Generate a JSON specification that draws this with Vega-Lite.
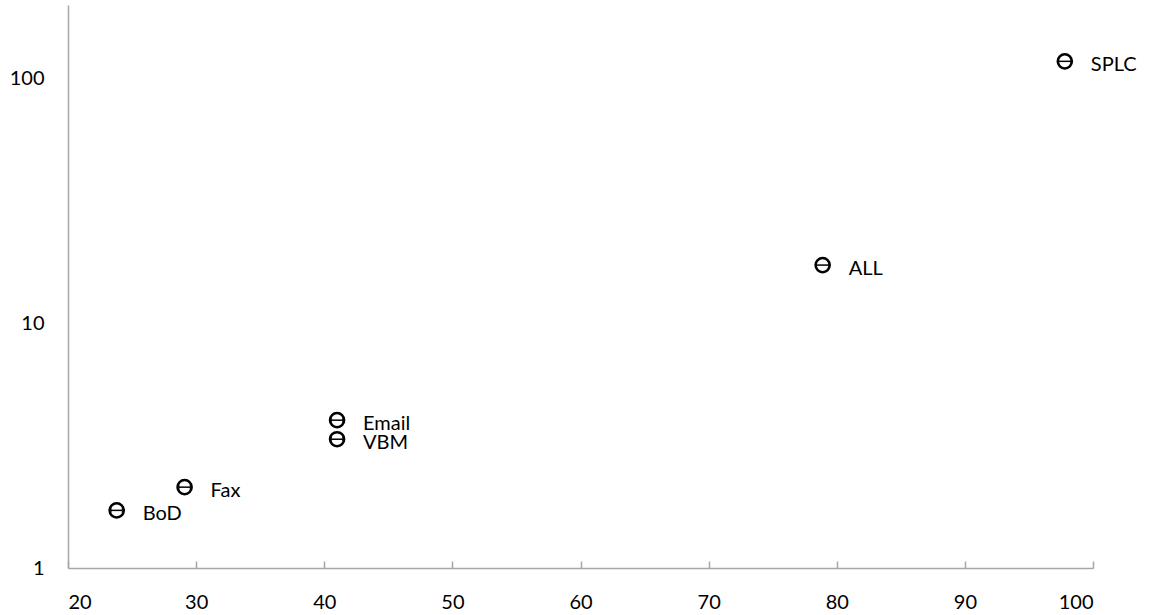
{
  "$schema": "https://vega.github.io/schema/vega-lite/v6.json",
  "width": 1025,
  "height": 563,
  "autosize": {"type": "none"},
  "padding": {"left": 68, "top": 5, "right": 56, "bottom": 47},
  "background": "white",
  "config": {
    "view": {"stroke": null},
    "font": "Lato",
    "axis": {
      "grid": false,
      "domainColor": "#a6a6a6",
      "domainWidth": 1.5,
      "tickColor": "#a6a6a6",
      "tickWidth": 1.5,
      "labelFont": "Lato",
      "labelFontSize": 20,
      "labelColor": "#000000",
      "title": null
    }
  },
  "data": {
    "values": [
      {"name": "SPLC", "x": 97.8, "y": 117.7, "xlo": 97.3, "xhi": 98.3},
      {"name": "ALL", "x": 78.9, "y": 17.3, "xlo": 78.4, "xhi": 79.4},
      {"name": "Email", "x": 41.0, "y": 4.02, "xlo": 40.55, "xhi": 41.45},
      {"name": "VBM", "x": 41.0, "y": 3.36, "xlo": 40.55, "xhi": 41.45},
      {"name": "Fax", "x": 29.1, "y": 2.14, "xlo": 28.65, "xhi": 29.55},
      {"name": "BoD", "x": 23.8, "y": 1.72, "xlo": 23.35, "xhi": 24.25}
    ]
  },
  "encoding": {
    "y": {
      "field": "y",
      "type": "quantitative",
      "scale": {"type": "log", "domain": [1, 200], "nice": false},
      "axis": {"values": [1, 10, 100], "format": "d", "ticks": false, "labelPadding": 24}
    }
  },
  "layer": [
    {
      "mark": {"type": "rule", "color": "#000000", "strokeWidth": 1.5},
      "encoding": {
        "x": {
          "field": "xlo",
          "type": "quantitative",
          "scale": {"domain": [20, 100], "nice": false, "zero": false},
          "axis": {"values": [20, 30, 40, 50, 60, 70, 80, 90, 100], "tickSize": -7, "labelPadding": 31}
        },
        "x2": {"field": "xhi"}
      }
    },
    {
      "mark": {"type": "tick", "color": "#000000", "thickness": 1.5, "size": 5, "orient": "vertical"},
      "encoding": {"x": {"field": "xlo", "type": "quantitative"}}
    },
    {
      "mark": {"type": "tick", "color": "#000000", "thickness": 1.5, "size": 5, "orient": "vertical"},
      "encoding": {"x": {"field": "xhi", "type": "quantitative"}}
    },
    {
      "mark": {"type": "point", "shape": "circle", "filled": false, "stroke": "#000000", "strokeWidth": 2.5, "size": 200, "opacity": 1},
      "encoding": {"x": {"field": "x", "type": "quantitative"}}
    },
    {
      "mark": {"type": "text", "align": "left", "baseline": "middle", "dx": 26, "dy": 4, "fontSize": 20, "font": "Lato", "color": "#000000"},
      "encoding": {
        "x": {"field": "x", "type": "quantitative"},
        "text": {"field": "name"}
      }
    }
  ]
}
